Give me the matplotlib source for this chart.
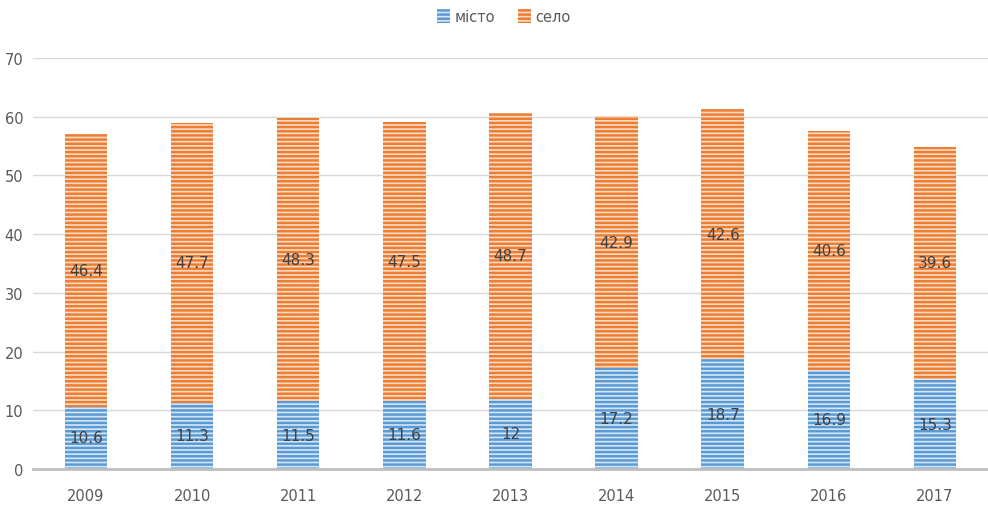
import matplotlib
matplotlib.use("Agg")
import matplotlib.pyplot as plt
import numpy as np

years = ["2009", "2010", "2011", "2012", "2013", "2014", "2015", "2016", "2017"]
misto = [10.6, 11.3, 11.5, 11.6, 12, 17.2, 18.7, 16.9, 15.3]
selo = [46.4, 47.7, 48.3, 47.5, 48.7, 42.9, 42.6, 40.6, 39.6]
yticks = [0, 10, 20, 30, 40, 50, 60, 70]

plt.rcParams["font.family"] = ["DejaVu Sans"]
plt.rcParams["hatch.linewidth"] = 1.8

fig = plt.figure(figsize=(9.88, 5.10), dpi=100)
ax = fig.add_axes([0.0334, 0.0784, 0.9666, 0.8059])

x = np.arange(len(years))
width = 0.4
blue = "#5B9BD5"
orange = "#ED7D31"

b1 = ax.bar(x, misto, width, color="#D6E6F5", edgecolor=blue, hatch="----",
            linewidth=0, label="місто", zorder=2)
b2 = ax.bar(x, selo, width, bottom=misto, color="#FADBC5", edgecolor=orange,
            hatch="----", linewidth=0, label="село", zorder=2)

for i in range(len(years)):
    ax.text(x[i], misto[i] / 2, f"{misto[i]:g}", ha="center", va="center",
            fontsize=11, color="#404040", zorder=3)
    ax.text(x[i], misto[i] + selo[i] / 2, f"{selo[i]:g}", ha="center", va="center",
            fontsize=11, color="#404040", zorder=3)

ax.set_xlim(-0.5, len(years) - 0.5)
ax.set_ylim(0, 70)
ax.set_yticks(yticks)
ax.set_xticks(x)
ax.set_xticklabels(years)
ax.tick_params(axis="both", length=0, labelsize=10.5, labelcolor="#595959")
ax.tick_params(axis="y", pad=7)
ax.tick_params(axis="x", pad=14)
ax.grid(axis="y", color="#D9D9D9", linewidth=1, zorder=0)
for side in ["top", "right", "left"]:
    ax.spines[side].set_visible(False)
ax.spines["bottom"].set_color("#BFBFBF")
ax.spines["bottom"].set_linewidth(2)
ax.spines["bottom"].set_zorder(3)

leg = fig.legend(handles=[b1, b2], loc="center", bbox_to_anchor=(0.51, 0.965),
                 ncol=2, frameon=False, fontsize=10.5, handlelength=0.9,
                 handleheight=1.1, handletextpad=0.3, columnspacing=1.6)
for t in leg.get_texts():
    t.set_color("#595959")

fig.savefig("out.png", dpi=100)
